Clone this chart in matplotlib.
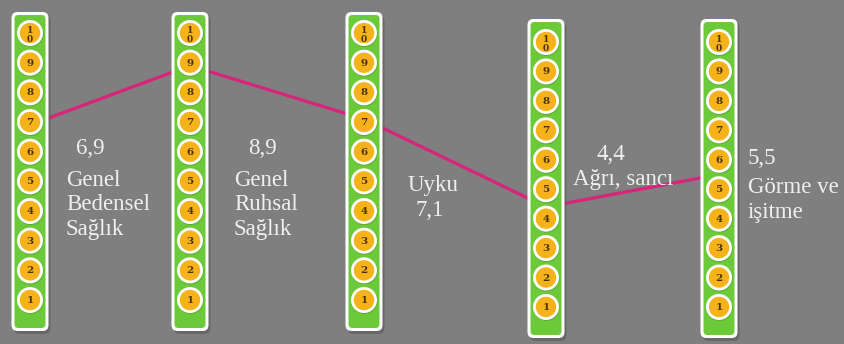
import matplotlib
matplotlib.use("Agg")
import matplotlib.pyplot as plt
from matplotlib.patches import FancyBboxPatch, Circle

# data
categories = ["Genel\nBedensel\nSağlık", "Genel\nRuhsal\nSağlık", "Uyku", "Ağrı, sancı", "Görme ve\nişitme"]
scores = [6.9, 8.9, 7.1, 4.4, 5.5]
score_labels = ["6,9", "8,9", "7,1", "4,4", "5,5"]
levels = [1, 2, 3, 4, 5, 6, 7, 8, 9, 10]

# layout in pixels
bar_x = [30, 190, 364, 546, 719]
bar_top = [12, 12, 12, 19, 19]
bar_h = 319
bar_w = 37
top_circle = [33, 33, 33, 42, 42]
step = [29.67, 29.67, 29.67, 29.44, 29.44]

bg = "#7f7f7f"
green = "#6cc93a"
orange = "#f6b21b"
pink = "#d6267a"
txt = "#efefef"

fig = plt.figure(figsize=(8.45, 3.44), dpi=100)
fig.patch.set_facecolor(bg)
ax = fig.add_axes([0, 0, 1, 1])
ax.set_facecolor(bg)
ax.set_xlim(0, 845)
ax.set_ylim(344, 0)
ax.axis("off")


def level_y(i, v):
    return top_circle[i] + (10 - v) * step[i]


# score line (behind the bars)
ax.plot(bar_x, [level_y(i, s) for i, s in enumerate(scores)],
        color=pink, lw=2.4, zorder=1, solid_capstyle="butt")

for i, cx in enumerate(bar_x):
    x0 = cx - bar_w / 2
    # shadow
    ax.add_patch(FancyBboxPatch((x0 + 2, bar_top[i] + 3), bar_w, bar_h,
                                boxstyle="round,pad=0,rounding_size=6",
                                fc="#5a5a5a", ec="none", alpha=0.6, zorder=2))
    # white frame
    ax.add_patch(FancyBboxPatch((x0, bar_top[i]), bar_w, bar_h,
                                boxstyle="round,pad=0,rounding_size=6",
                                fc="white", ec="none", zorder=3))
    # green inside
    ax.add_patch(FancyBboxPatch((x0 + 3, bar_top[i] + 3), bar_w - 6, bar_h - 6,
                                boxstyle="round,pad=0,rounding_size=4",
                                fc=green, ec="none", zorder=4))
    for lv in levels:
        cy = level_y(i, lv)
        ax.add_patch(Circle((cx + 0.5, cy + 1), 13, fc="#4f8f2a", ec="none", alpha=0.5, zorder=5))
        ax.add_patch(Circle((cx, cy), 13, fc="white", ec="none", zorder=6))
        ax.add_patch(Circle((cx, cy), 10.2, fc=orange, ec="none", zorder=7))
        lab = "1\n0" if lv == 10 else str(lv)
        ax.text(cx, cy + (2 if lv == 10 else 0.5), lab, ha="center", va="center",
                fontsize=7.5 if lv < 10 else 6.5,
                fontweight="bold", family="DejaVu Serif", color="#4a3300",
                linespacing=1.0, zorder=8)

font = dict(family="Liberation Serif", color=txt, fontsize=16.5, zorder=9)

# category texts
ax.text(76, 149, score_labels[0], va="center", ha="left", **font)
ax.text(66, 205, categories[0], va="center", ha="left", linespacing=1.25, **font)
ax.text(248, 149, score_labels[1], va="center", ha="left", **font)
ax.text(234, 205, categories[1], va="center", ha="left", linespacing=1.25, **font)
ax.text(408, 186, categories[2], va="center", ha="left", **font)
ax.text(416, 211, score_labels[2], va="center", ha="left", **font)
ax.text(597, 155, score_labels[3], va="center", ha="left", **font)
ax.text(573, 180, categories[3], va="center", ha="left", **font)
ax.text(748, 159, score_labels[4], va="center", ha="left", **font)
ax.text(748, 200, categories[4], va="center", ha="left", linespacing=1.25, **font)

fig.savefig("out.png", dpi=100, facecolor=bg)
